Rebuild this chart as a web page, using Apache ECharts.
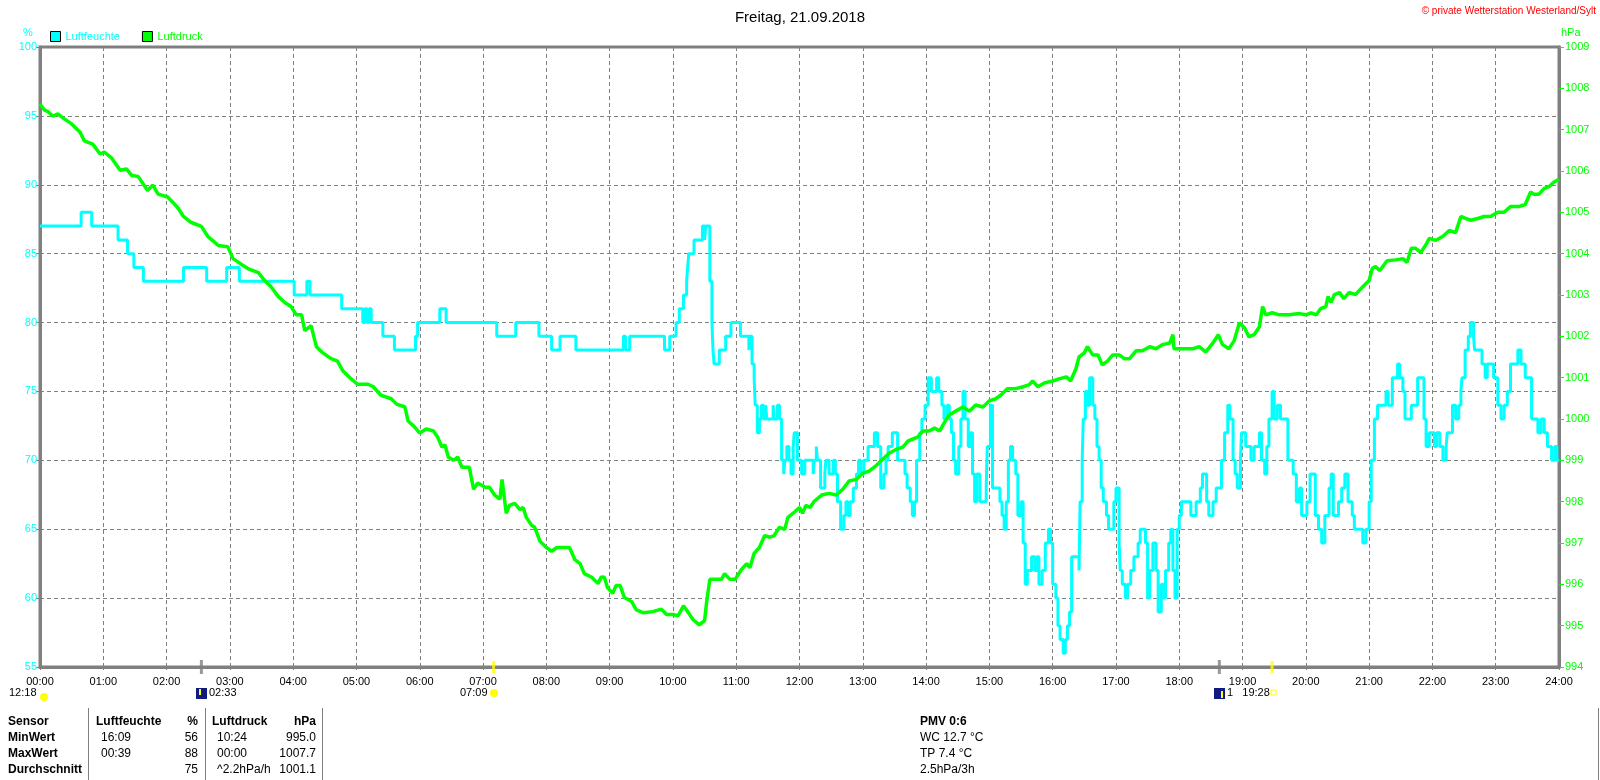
<!DOCTYPE html>
<html>
<head>
<meta charset="utf-8">
<title>Freitag, 21.09.2018</title>
<script src="https://cdn.jsdelivr.net/npm/echarts@6/dist/echarts.min.js"></script>
<style>
  html, body { margin: 0; padding: 0; background: #fff; }
  #main { width: 1600px; height: 780px; }
</style>
</head>
<body>
<div id="main"></div>
<script>
// Zeit in Minuten seit 00:00
var humTimes = [0,39,49,74,83,89,98,136,158,177,189,241,253,256,286,306,308,310,312,314,325,336,356,358,
  379,385,433,451,473,485,493,508,553,555,559,592,597,603,606,610,613,614,615,620,628,630,631,635,637,638,639,644,650,655,664,672,673,675,677,678,680,682,684,686,688,689,695,696,699,701,703,705,706,708,710,712,714,715,718,722,725,
  733,734,736,737,740,744,745,748,752,754,756,759,762,764,766,768,771,774,776,778,781,785,791,794,797,800,802,804,808,813,820,822,825,827,829,831,834,836,839,842,845,850,852,855,857,860,862,864,866,868,871,873,875,877,880,882,884,886,888,891,897,898,901,903,910,912,914,916,918,920,922,925,927,930,932,934,936,940,943,945,947,950,953,956,958,960,963,965,967,970,972,974,976,978,985,986,988,989,991,993,995,998,1000,1002,1004,1006,1008,1011,1013,1018,1020,1023,1024,1026,1029,1031,1034,1037,1041,1043,1048,1050,1052,1055,1058,1060,1063,1065,1067,1070,1072,1074,1076,1078,1080,
  1082,1091,1096,1100,1102,1106,1108,1112,1115,1120,1123,1126,1128,1131,1133,1135,1138,1139,1143,1148,1151,1156,1158,1161,1163,1165,1168,1170,1173,1176,1183,1188,1191,1194,1196,1201,1204,1209,1212,1215,1218,1222,1224,1226,1231,1234,1237,1240,1244,1246,1254,1257,1260,1262,1265,1268,1276,1278,1282,1287,1289,1292,1294,1300,1306,1312,1314,1317,1322,1324,1327,1330,1333,1334,1339,1342,1345,1347,1348,1351,1354,1356,1359,1360,1367,1370,1372,1378,1382,1385,1388,1391,1394,1401,1404,1408,1414,1420,1423,1426,1429,1433,1436,1438,1440];
var humValues = [87,88,87,86,85,84,83,84,83,84,83,82,83,82,81,80,81,80,81,80,79,78,79,80,
  81,80,79,80,79,78,79,78,79,78,79,78,79,80,81,82,83,84,85,86,87,86,87,83,80,78,77,78,79,80,79,78,79,77,76,74,72,73,74,73,74,73,74,73,74,73,70,69,70,71,70,69,71,72,70,69,70,
  69,70,71,70,68,69,70,69,70,69,67,65,66,67,66,67,68,69,70,69,70,71,72,71,68,69,70,71,72,70,69,68,67,66,67,70,72,73,74,76,75,76,75,74,73,74,73,72,70,69,71,73,75,73,71,72,69,67,69,67,68,71,74,68,67,66,65,67,70,71,70,69,66,67,64,61,62,63,62,63,61,62,64,65,64,61,60,58,57,56,57,58,59,63,62,67,70,73,75,74,76,74,73,71,70,68,67,66,65,67,68,64,62,61,60,61,62,63,64,65,64,60,62,64,62,59,61,60,62,64,65,62,60,65,66,
  67,66,67,68,69,67,66,67,68,70,72,74,73,70,69,68,70,72,71,70,71,72,70,69,71,73,75,73,74,73,70,69,67,68,66,67,69,66,65,64,66,68,69,66,67,68,69,67,66,65,64,65,67,70,73,74,75,74,76,77,76,75,73,74,76,73,71,72,71,72,71,70,71,72,74,73,74,75,76,78,79,80,79,78,77,76,77,76,74,73,74,75,77,78,77,76,73,72,73,72,71,70,71,70,70];

var presTimes = [0,4,8,12,17,22,30,38,42,50,57,61,68,76,82,87,93,102,107,112,121,126,131,136,143,153,159,169,178,183,191,197,207,213,219,226,232,238,243,248,251,257,262,268,276,282,287,295,301,311,316,323,333,338,346,349,355,
  360,366,373,377,381,384,387,392,396,400,407,411,415,422,426,431,436,438,442,445,450,455,458,461,466,469,474,480,485,490,502,507,512,516,523,529,532,535,538,543,546,550,554,561,565,572,581,589,594,600,605,610,614,619,625,630,632,635,640,646,649,654,659,665,670,673,677,682,687,692,696,701,706,709,714,
  720,723,726,730,734,741,748,755,761,767,774,780,786,793,799,805,812,818,823,827,832,837,843,848,853,857,862,868,875,881,887,894,900,906,911,917,924,932,938,941,946,952,960,966,973,977,982,985,990,993,998,1003,1007,1012,1017,1023,1028,1033,1039,1045,1052,1058,1064,1071,1074,1075,
  1082,1086,1093,1099,1105,1112,1117,1121,1127,1132,1137,1142,1146,1151,1156,1159,1162,1168,1175,1184,1194,1200,1205,1210,1214,1219,1221,1224,1227,1232,1236,1241,1247,1254,1260,1263,1266,1270,1273,1277,1285,1292,1296,1300,1304,1309,1314,1317,1323,1330,1336,1342,1347,1352,1356,1363,1369,1375,1382,1388,1394,1402,1408,1413,1416,1421,1426,1431,1435,1440];
var presValues = [1007.62,1007.48,1007.43,1007.33,1007.38,1007.28,1007.14,1006.94,1006.73,1006.65,1006.41,1006.46,1006.31,1006.02,1006.05,1005.89,1005.87,1005.53,1005.66,1005.44,1005.37,1005.24,1005.10,1004.90,1004.76,1004.66,1004.42,1004.20,1004.17,1003.88,1003.74,1003.64,1003.54,1003.35,1003.20,1002.96,1002.82,1002.72,1002.52,1002.52,1002.14,1002.26,1001.75,1001.60,1001.46,1001.40,1001.17,1000.97,1000.84,1000.84,1000.78,1000.58,1000.49,1000.36,1000.29,999.95,999.81,
  999.66,999.76,999.71,999.56,999.32,999.37,999.08,999.00,999.08,998.83,998.83,998.30,998.45,998.35,998.35,998.16,998.06,998.54,997.72,997.91,997.96,997.81,997.86,997.62,997.43,997.38,997.04,996.89,996.80,996.89,996.89,996.60,996.50,996.26,996.17,996.02,996.18,996.17,995.92,995.78,995.97,995.97,995.68,995.58,995.39,995.31,995.34,995.40,995.27,995.27,995.24,995.48,995.34,995.15,995.02,995.12,995.58,996.12,996.12,996.12,996.26,996.12,996.12,996.36,996.50,996.40,996.75,996.89,997.18,997.14,997.18,997.38,997.33,997.62,997.72,
  997.86,997.72,997.91,997.86,998.01,998.16,998.20,998.16,998.30,998.50,998.54,998.69,998.74,998.88,999.03,999.17,999.27,999.32,999.47,999.51,999.56,999.71,999.71,999.78,999.71,999.90,1000.10,1000.19,1000.29,1000.19,1000.34,1000.29,1000.44,1000.49,1000.58,1000.73,1000.73,1000.78,1000.83,1000.92,1000.78,1000.87,1000.92,1000.97,1001.02,1000.92,1001.21,1001.50,1001.60,1001.75,1001.55,1001.55,1001.31,1001.40,1001.55,1001.55,1001.46,1001.46,1001.65,1001.65,1001.75,1001.70,1001.80,1001.84,1002.04,1001.70,
  1001.70,1001.70,1001.70,1001.75,1001.62,1001.84,1002.04,1001.80,1001.70,1001.89,1002.33,1002.20,1001.99,1002.04,1002.23,1002.72,1002.52,1002.57,1002.52,1002.52,1002.55,1002.52,1002.57,1002.52,1002.67,1002.72,1002.96,1002.82,1003.01,1003.06,1002.91,1003.06,1003.01,1003.20,1003.35,1003.64,1003.69,1003.59,1003.69,1003.83,1003.85,1003.88,1003.79,1004.13,1004.13,1004.03,1004.22,1004.37,1004.32,1004.42,1004.56,1004.51,1004.90,1004.85,1004.81,1004.85,1004.90,1004.90,1005.00,1005.00,1005.14,1005.14,1005.19,1005.49,1005.44,1005.44,1005.58,1005.63,1005.73,1005.80];

// Mond- und Sonnenzeiten (Minuten) als Markierungen an der Zeitachse
var moonTimes = [153, 1118];
var sunTimes = [430, 1168];

// Tabelle unten
var tableHead = ['Sensor', 'Luftfeuchte', '%', 'Luftdruck', 'hPa'];
var tableRows = [
  ['MinWert', '16:09', '56', '10:24', '995.0'],
  ['MaxWert', '00:39', '88', '00:00', '1007.7'],
  ['Durchschnitt', '', '75', '^2.2hPa/h', '1001.1']
];
var infoLines = ['PMV 0:6', 'WC 12.7 °C', 'TP 7.4 °C', '2.5hPa/3h'];

function pairs(t, v) {
  var out = [];
  for (var i = 0; i < t.length; i++) out.push([t[i], v[i]]);
  return out;
}
function pad(n) { return (n < 10 ? '0' : '') + n; }

var FONT = '"Liberation Sans", Arial, sans-serif';
var myChart = echarts.init(document.getElementById('main'));

// Grafikelemente: Achsennamen, Tabelle, Zeitmarken
var graphics = [
  { type: 'text', left: 23, top: 27, style: { text: '%', fill: '#00ffff', font: '11px ' + FONT } },
  { type: 'text', left: 1561, top: 27, style: { text: 'hPa', fill: '#00ff00', font: '11px ' + FONT } },
  { type: 'text', right: 4, top: 6, style: { text: '© private Wetterstation Westerland/Sylt', fill: '#ff0000', font: '10px ' + FONT } },
  // Zeitmarken unter der Achse
  { type: 'text', left: 9, top: 687, style: { text: '12:18', fill: '#000', font: '11px ' + FONT } },
  { type: 'circle', shape: { cx: 44, cy: 697, r: 4 }, style: { fill: '#ffff00' } },
  { type: 'rect', shape: { x: 196, y: 688, width: 11, height: 11 }, style: { fill: '#101a80' } },
  { type: 'rect', shape: { x: 199, y: 689, width: 2, height: 6 }, style: { fill: '#ffff00' } },
  { type: 'text', left: 209, top: 687, style: { text: '02:33', fill: '#000', font: '11px ' + FONT } },
  { type: 'text', left: 460, top: 687, style: { text: '07:09', fill: '#000', font: '11px ' + FONT } },
  { type: 'circle', shape: { cx: 494, cy: 693, r: 4 }, style: { fill: '#ffff00' } },
  { type: 'rect', shape: { x: 1214, y: 688, width: 11, height: 11 }, style: { fill: '#101a80' } },
  { type: 'rect', shape: { x: 1221, y: 691, width: 2, height: 7 }, style: { fill: '#ffff00' } },
  { type: 'text', left: 1227, top: 687, style: { text: '1   19:28', fill: '#000', font: '11px ' + FONT } },
  { type: 'rect', shape: { x: 1271, y: 690, width: 5, height: 5 }, style: { fill: 'none', stroke: '#ffff00', lineWidth: 1 } },
  // Trennlinien der Tabelle
  { type: 'line', shape: { x1: 88.5, y1: 708, x2: 88.5, y2: 780 }, style: { stroke: '#808080', lineWidth: 1 } },
  { type: 'line', shape: { x1: 205.5, y1: 708, x2: 205.5, y2: 780 }, style: { stroke: '#808080', lineWidth: 1 } },
  { type: 'line', shape: { x1: 322.5, y1: 708, x2: 322.5, y2: 780 }, style: { stroke: '#808080', lineWidth: 1 } },
  { type: 'line', shape: { x1: 1598.5, y1: 708, x2: 1598.5, y2: 780 }, style: { stroke: '#808080', lineWidth: 1 } }
];

// Spalten: x-Position und Ausrichtung
var colX = [8, 96, 198, 212, 316];
var colAlign = ['left', 'left', 'right', 'left', 'right'];
var rowY = [722, 738, 754, 770];
tableHead.forEach(function(txt, c) {
  graphics.push({ type: 'text', x: colX[c], y: rowY[0],
    style: { text: txt, fill: '#000', font: 'bold 12px ' + FONT, textAlign: colAlign[c], textVerticalAlign: 'middle' } });
});
tableRows.forEach(function(row, r) {
  row.forEach(function(txt, c) {
    var x = colX[c];
    if (c === 1 || c === 3) x += 5;
    graphics.push({ type: 'text', x: x, y: rowY[r + 1],
      style: { text: txt, fill: '#000', font: (c === 0 ? 'bold ' : '') + '12px ' + FONT, textAlign: colAlign[c], textVerticalAlign: 'middle' } });
  });
});
infoLines.forEach(function(txt, i) {
  graphics.push({ type: 'text', x: 920, y: rowY[i],
    style: { text: txt, fill: '#000', font: (i === 0 ? 'bold ' : '') + '12px ' + FONT, textVerticalAlign: 'middle' } });
});

var option = {
  animation: false,
  backgroundColor: '#fff',
  textStyle: { fontFamily: FONT },
  title: {
    text: 'Freitag, 21.09.2018',
    left: 'center',
    top: 5,
    textStyle: { fontSize: 15, fontWeight: 'normal', color: '#000', fontFamily: FONT }
  },
  legend: {
    left: 50,
    top: 31,
    icon: 'rect',
    itemWidth: 10,
    itemHeight: 10,
    itemGap: 22,
    padding: 0,
    itemStyle: { borderColor: '#000', borderWidth: 1 },
    textStyle: { fontSize: 11, fontFamily: FONT },
    data: [
      { name: 'Luftfeuchte', textStyle: { color: '#00ffff' } },
      { name: 'Luftdruck', textStyle: { color: '#00ff00' } }
    ]
  },
  grid: {
    left: 40,
    right: 41,
    top: 47,
    bottom: 113,
    show: true,
    borderColor: '#808080',
    borderWidth: 3
  },
  xAxis: {
    type: 'value',
    min: 0,
    max: 1440,
    interval: 60,
    axisLine: { lineStyle: { color: '#808080', width: 3 } },
    axisTick: { length: 3, lineStyle: { color: '#808080' } },
    axisLabel: {
      color: '#000', fontSize: 11, margin: 9,
      showMinLabel: true, showMaxLabel: true,
      formatter: function(v) { return pad(v / 60) + ':00'; }
    },
    splitLine: { show: true, lineStyle: { color: '#808080', type: [4, 3], width: 1 } }
  },
  yAxis: [
    {
      type: 'value',
      min: 55,
      max: 100,
      interval: 5,
      position: 'left',
      axisLine: { show: true, lineStyle: { color: '#808080', width: 3 } },
      axisTick: { show: true, length: 4, lineStyle: { color: '#808080' } },
      axisLabel: { color: '#00ffff', fontSize: 11, margin: 3 },
      splitLine: { show: true, lineStyle: { color: '#808080', type: [4, 3], width: 1 } }
    },
    {
      type: 'value',
      min: 994,
      max: 1009,
      interval: 1,
      position: 'right',
      axisLine: { show: true, lineStyle: { color: '#808080', width: 3 } },
      axisTick: { show: true, length: 5, lineStyle: { color: '#00ff00' } },
      axisLabel: {
        color: '#00ff00', fontSize: 11, margin: 6,
        formatter: function(v) { return String(v); }
      },
      splitLine: { show: false }
    }
  ],
  graphic: graphics,
  series: [
    {
      name: 'Luftfeuchte',
      type: 'line',
      yAxisIndex: 0,
      step: 'end',
      showSymbol: false,
      color: '#00ffff',
      lineStyle: { color: '#00ffff', width: 3 },
      data: pairs(humTimes, humValues)
    },
    {
      name: 'Luftdruck',
      type: 'line',
      yAxisIndex: 1,
      showSymbol: false,
      color: '#00ff00',
      lineStyle: { color: '#00ff00', width: 3.5 },
      data: pairs(presTimes, presValues)
    },
    {
      name: 'Mond',
      type: 'scatter',
      yAxisIndex: 0,
      symbol: 'rect',
      symbolSize: [3, 14],
      clip: false,
      itemStyle: { color: '#808080' },
      data: moonTimes.map(function(t) { return [t, 55]; })
    },
    {
      name: 'Sonne',
      type: 'scatter',
      yAxisIndex: 0,
      symbol: 'rect',
      symbolSize: [3, 12],
      clip: false,
      itemStyle: { color: '#ffff00' },
      data: sunTimes.map(function(t) { return [t, 55]; })
    }
  ]
};

myChart.setOption(option);
</script>
</body>
</html>
